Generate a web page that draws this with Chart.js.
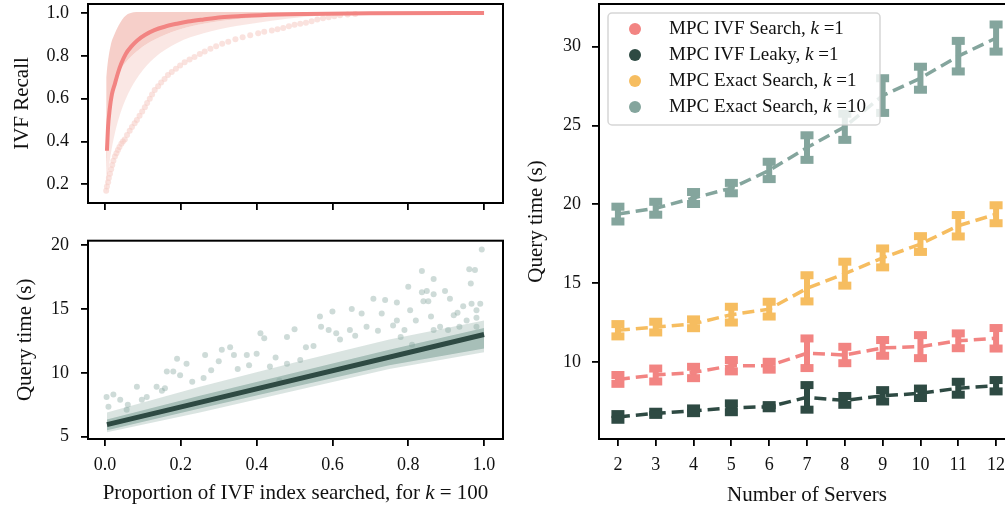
<!DOCTYPE html>
<html>
<head>
    <meta charset="utf-8">
    <title>IVF recall and MPC query time</title>
    <script src="https://cdn.jsdelivr.net/npm/chart.js"></script>
    <style>
        body {
            margin: 0;
            background: #fff;
            overflow: hidden;
            width: 1005px;
            height: 508px;
            position: relative;
        }
        canvas { position: absolute; }
        #recallChart { left: 0; top: 0; }
        #timeChart { left: 0; top: 230px; }
        #serverChart { left: 520px; top: 0; }
    </style>
</head>
<body>
    <canvas id="recallChart" width="520" height="215"></canvas>
    <canvas id="timeChart" width="520" height="278"></canvas>
    <canvas id="serverChart" width="505" height="508"></canvas>

    <script>
        var FONT = "'Liberation Serif', 'DejaVu Serif', serif";
        var PINK = '#f5cac3', SALMON = '#f28482', DARK = '#2e4a43', ORANGE = '#f6bd60', TEAL = '#84a59d';

        // ---- top left: recall vs proportion of index searched ----
        var propTicks = [0.0, 0.2, 0.4, 0.6, 0.8, 1.0];
        var recallTicks = [0.2, 0.4, 0.6, 0.8, 1.0];
        var recallMeanX = [0.005, 0.008, 0.012, 0.018, 0.026, 0.034, 0.043, 0.055, 0.069, 0.085, 0.105, 0.13, 0.157, 0.19, 0.219, 0.26, 0.307, 0.36, 0.41, 0.53, 0.7, 1.0];
        var recallMeanY = [0.357, 0.47, 0.547, 0.62, 0.67, 0.72, 0.765, 0.81, 0.843, 0.872, 0.897, 0.92, 0.936, 0.95, 0.96, 0.97, 0.98, 0.986, 0.99, 0.995, 0.999, 1.0];
        // spread of per-query recall (envelopes)
        var bandX     = [0.003, 0.008, 0.015, 0.026, 0.04, 0.06, 0.09, 0.13, 0.19, 0.26, 0.35, 0.43, 0.53, 0.65];
        var bandTop   = [0.70, 0.78, 0.85, 0.905, 0.955, 0.995, 1.005, 1.005, 1.005, 1.005, 1.005, 1.005, 1.005, 1.005];
        var bandDense = [0.24, 0.42, 0.55, 0.66, 0.73, 0.78, 0.83, 0.875, 0.92, 0.95, 0.972, 0.982, 0.99, 1.0];
        var bandLight = [0.16, 0.25, 0.34, 0.44, 0.53, 0.62, 0.71, 0.79, 0.86, 0.905, 0.94, 0.962, 0.982, 1.0];
        // slowest query, drawn as separate dots
        var strandX = [0.003, 0.005, 0.008, 0.010, 0.013, 0.016, 0.019, 0.022, 0.026, 0.030, 0.034, 0.038, 0.043, 0.047, 0.052, 0.058, 0.065, 0.071, 0.078, 0.084, 0.091, 0.098, 0.105, 0.111, 0.118, 0.124, 0.131, 0.140, 0.148, 0.157, 0.166, 0.176, 0.187, 0.198, 0.21, 0.223, 0.236, 0.250, 0.263, 0.278, 0.293, 0.309, 0.325, 0.344, 0.363, 0.383, 0.404, 0.42, 0.44, 0.455, 0.47, 0.485, 0.50, 0.515, 0.53, 0.545, 0.56, 0.575, 0.59, 0.605, 0.62, 0.64, 0.66];
        var strandY = [0.17, 0.19, 0.21, 0.23, 0.25, 0.27, 0.29, 0.31, 0.33, 0.345, 0.36, 0.375, 0.39, 0.40, 0.41, 0.43, 0.45, 0.468, 0.485, 0.50, 0.52, 0.54, 0.56, 0.58, 0.60, 0.62, 0.64, 0.658, 0.675, 0.692, 0.71, 0.725, 0.74, 0.755, 0.77, 0.783, 0.795, 0.808, 0.82, 0.833, 0.845, 0.856, 0.866, 0.877, 0.887, 0.896, 0.905, 0.912, 0.918, 0.924, 0.93, 0.938, 0.945, 0.95, 0.955, 0.962, 0.97, 0.975, 0.98, 0.985, 0.99, 0.993, 0.995];

        // ---- bottom left: query time vs proportion searched ----
        var timeTicks = [5, 10, 15, 20];
        var fitX = [0.005, 1.0];
        var fitY = [5.95, 13.0];
        var cloudX        = [0.005, 0.25, 0.5, 0.75, 1.0];
        var cloudTop      = [6.9, 8.9, 10.8, 12.6, 14.1];
        var cloudLow      = [5.35, 6.9, 8.6, 10.3, 11.6];
        var cloudDenseTop = [6.35, 8.2, 10.0, 11.8, 13.5];
        var cloudDenseLow = [5.5, 7.2, 8.9, 10.6, 11.9];
        var outlierX = [0.994, 0.961, 0.976, 0.836, 0.867, 0.965, 0.80, 0.836, 0.849, 0.897, 0.867, 0.708, 0.739, 0.770, 0.805, 0.84, 0.853, 0.91, 0.945, 0.967, 0.98,
                        0.651, 0.677, 0.60, 0.567, 0.57, 0.59, 0.61, 0.69, 0.73, 0.77, 0.79, 0.82, 0.884, 0.92, 0.954, 0.50, 0.48, 0.42, 0.41, 0.40, 0.374,
                        0.33, 0.34, 0.308, 0.30, 0.28, 0.264, 0.215, 0.198, 0.19, 0.163, 0.18, 0.136, 0.158, 0.097, 0.084, 0.04, 0.004, 0.022, 0.009, 0.057,
                        0.435, 0.48, 0.515, 0.46, 0.53, 0.646, 0.78, 0.81, 0.867, 0.905, 0.935, 0.98, 0.98,
                        0.06, 0.11, 0.15, 0.23, 0.26, 0.35, 0.38, 0.45, 0.55, 0.62, 0.66, 0.72, 0.76, 0.86, 0.93, 0.99];
        var outlierY = [19.66, 18.1, 18.04, 17.97, 17.34, 17.0, 16.74, 16.3, 16.4, 16.4, 16.14, 15.8, 15.7, 15.5, 14.9, 15.6, 15.6, 15.8, 15.2, 15.4, 14.9,
                        15.0, 14.65, 14.8, 14.4, 13.6, 13.35, 13.1, 13.6, 14.65, 14.1, 13.35, 14.1, 13.6, 14.5, 14.1, 13.4, 12.8, 12.7, 13.1, 11.5, 11.4,
                        12.0, 11.4, 11.8, 10.9, 10.2, 11.4, 10.7, 9.8, 11.1, 10.1, 10.1, 8.9, 8.8, 7.9, 8.9, 7.9, 8.1, 8.3, 7.35, 7.1,
                        10.5, 10.7, 11.0, 9.4, 12.0, 13.35, 12.8, 12.2, 13.35, 13.35, 13.6, 13.6, 14.3,
                        7.5, 8.1, 8.6, 9.3, 9.6, 10.3, 10.6, 11.2, 12.1, 12.6, 12.9, 13.3, 13.7, 14.4, 14.7, 15.4];

        // ---- right: query time vs number of servers ----
        var servers = [2, 3, 4, 5, 6, 7, 8, 9, 10, 11, 12];
        var serverTicks = [10, 15, 20, 25, 30];
        var seriesNames = ['MPC IVF Search', 'MPC IVF Leaky', 'MPC Exact Search', 'MPC Exact Search'];
        var seriesK = [1, 1, 1, 10];
        var ivfSearch    = [8.89, 9.17, 9.33, 9.76, 9.76, 10.55, 10.44, 10.89, 10.97, 11.34, 11.5];
        var ivfSearchErr = [0.28, 0.41, 0.36, 0.36, 0.25, 0.94, 0.52, 0.5, 0.73, 0.47, 0.65];
        var ivfLeaky     = [6.51, 6.74, 6.9, 7.09, 7.16, 7.75, 7.56, 7.85, 8.01, 8.33, 8.49];
        var ivfLeakyErr  = [0.18, 0.1, 0.15, 0.28, 0.1, 0.78, 0.28, 0.36, 0.3, 0.41, 0.36];
        var exact1       = [12.01, 12.21, 12.42, 13.0, 13.35, 14.67, 15.6, 16.6, 17.48, 18.64, 19.37];
        var exact1Err    = [0.39, 0.34, 0.28, 0.5, 0.47, 0.83, 0.76, 0.6, 0.5, 0.68, 0.57];
        var exact10      = [19.38, 19.75, 20.4, 21.03, 22.15, 23.6, 24.92, 26.9, 28.0, 29.4, 30.55];
        var exact10Err   = [0.47, 0.41, 0.38, 0.33, 0.55, 0.78, 0.83, 1.1, 0.73, 0.97, 0.86];

        function pts(xs, ys) {
            return xs.map(function(x, i) { return {x: x, y: ys[i]}; });
        }

        // black box round the plot area
        var framePlugin = {
            id: 'frame',
            afterDraw: function(chart) {
                var a = chart.chartArea, c = chart.ctx;
                c.save();
                c.strokeStyle = '#000';
                c.lineWidth = 2;
                c.strokeRect(a.left, a.top, a.right - a.left, a.bottom - a.top);
                c.restore();
            }
        };

        function tickGrid() {
            return {display: true, drawOnChartArea: false, drawTicks: true, tickLength: 7,
                    color: '#000', lineWidth: 1.8, tickWidth: 1.8, tickColor: '#000'};
        }

        // linear axis with fixed ticks and a fixed box size (no extra label margins)
        function axis(min, max, tickList, fmt, pad, boxSize, title) {
            var a = {
                type: 'linear', min: min, max: max,
                border: {display: false},
                grid: tickGrid(),
                afterBuildTicks: function(s) { s.ticks = tickList.map(function(v) { return {value: v}; }); },
                afterFit: function(s) {
                    if (s.isHorizontal()) s.height = boxSize; else s.width = boxSize;
                    s.paddingTop = 0; s.paddingBottom = 0; s.paddingLeft = 0; s.paddingRight = 0;
                },
                ticks: {font: {family: FONT, size: 18}, color: '#111', padding: pad, callback: fmt}
            };
            if (title) {
                a.title = {display: true, text: title.text, font: {family: FONT, size: 21}, color: '#111',
                           padding: {top: title.pad, bottom: title.pad}};
            }
            return a;
        }

        var noLabel = function() { return ''; };
        var oneDec = function(v) { return v.toFixed(1); };
        var whole = function(v) { return String(v); };

        var baseOpts = {
            responsive: false,
            animation: false,
            plugins: {legend: {display: false}, tooltip: {enabled: false}}
        };

        // Top left chart
        new Chart(document.getElementById('recallChart'), {
            type: 'line',
            data: {
                datasets: [
                    {label: 'mean recall', data: pts(recallMeanX, recallMeanY), borderColor: SALMON, borderWidth: 4,
                     pointRadius: 0, cubicInterpolationMode: 'monotone', fill: false, order: 0},
                    {label: 'slowest', data: pts(strandX, strandY), showLine: false, pointRadius: 3, borderWidth: 0,
                     pointBackgroundColor: 'rgba(245,202,195,0.55)', order: 1},
                    {label: 'top', data: pts(bandX, bandTop), borderWidth: 0, pointRadius: 0, cubicInterpolationMode: 'monotone',
                     fill: false, order: 5},
                    {label: 'dense', data: pts(bandX, bandDense), borderWidth: 0, pointRadius: 0, cubicInterpolationMode: 'monotone',
                     fill: 2, backgroundColor: 'rgba(245,202,195,0.9)', order: 3},
                    {label: 'light', data: pts(bandX, bandLight), borderWidth: 0, pointRadius: 0, cubicInterpolationMode: 'monotone',
                     fill: 3, backgroundColor: 'rgba(245,202,195,0.45)', order: 4}
                ]
            },
            options: Object.assign({}, baseOpts, {
                layout: {padding: {top: 4, right: 17, left: 0, bottom: 0}},
                scales: {
                    x: axis(-0.045, 1.05, propTicks, noLabel, 0, 12),
                    y: axis(0.113, 1.042, recallTicks, oneDec, 12, 88, {text: 'IVF Recall', pad: 10})
                }
            }),
            plugins: [framePlugin]
        });

        // x title with italic k
        var propTitlePlugin = {
            id: 'propTitle',
            afterDraw: function(chart) {
                var a = chart.chartArea, c = chart.ctx;
                var parts = [['Proportion of IVF index searched, for ', ''], ['k', 'italic '], [' = 100', '']];
                c.save();
                c.fillStyle = '#111';
                c.textBaseline = 'middle';
                var total = 0;
                parts.forEach(function(p) { c.font = p[1] + '21px ' + FONT; total += c.measureText(p[0]).width; });
                var x = (a.left + a.right) / 2 - total / 2;
                parts.forEach(function(p) {
                    c.font = p[1] + '21px ' + FONT;
                    c.fillText(p[0], x, 263);
                    x += c.measureText(p[0]).width;
                });
                c.restore();
            }
        };

        // Bottom left chart
        new Chart(document.getElementById('timeChart'), {
            type: 'line',
            data: {
                datasets: [
                    {label: 'fit', data: pts(fitX, fitY), borderColor: DARK, borderWidth: 5, pointRadius: 0, fill: false, order: 0},
                    {label: 'outliers', data: pts(outlierX, outlierY), showLine: false, pointRadius: 3, borderWidth: 0,
                     pointBackgroundColor: 'rgba(132,165,157,0.4)', order: 1},
                    {label: 'cloud top', data: pts(cloudX, cloudTop), borderWidth: 0, pointRadius: 0, fill: false, order: 6},
                    {label: 'cloud low', data: pts(cloudX, cloudLow), borderWidth: 0, pointRadius: 0, fill: 2,
                     backgroundColor: 'rgba(132,165,157,0.3)', order: 5},
                    {label: 'dense top', data: pts(cloudX, cloudDenseTop), borderWidth: 0, pointRadius: 0, fill: false, order: 4},
                    {label: 'dense low', data: pts(cloudX, cloudDenseLow), borderWidth: 0, pointRadius: 0, fill: 4,
                     backgroundColor: 'rgba(132,165,157,0.6)', order: 3}
                ]
            },
            options: Object.assign({}, baseOpts, {
                layout: {padding: {top: 10.7, right: 17, left: 0, bottom: 0}},
                scales: {
                    x: axis(-0.045, 1.05, propTicks, oneDec, 8, 69),
                    y: axis(4.82, 20.34, timeTicks, whole, 12, 88, {text: 'Query time (s)', pad: 13})
                }
            }),
            plugins: [framePlugin, propTitlePlugin]
        });

        // error bars with thick caps
        var errorBarPlugin = {
            id: 'errorBars',
            afterDatasetsDraw: function(chart) {
                var c = chart.ctx, xs = chart.scales.x, ys = chart.scales.y;
                chart.data.datasets.forEach(function(ds) {
                    if (!ds.errors) return;
                    c.save();
                    c.fillStyle = ds.borderColor;
                    ds.data.forEach(function(p, i) {
                        var px = xs.getPixelForValue(p.x);
                        var hi = ys.getPixelForValue(p.y + ds.errors[i]);
                        var lo = ys.getPixelForValue(p.y - ds.errors[i]);
                        c.fillRect(px - 3, hi, 6, lo - hi);
                        c.fillRect(px - 6.5, hi - 4, 13, 8);
                        c.fillRect(px - 6.5, lo - 4, 13, 8);
                    });
                    c.restore();
                });
            }
        };

        // boxed legend inside the plot, drawn above the lines
        var legendPlugin = {
            id: 'boxLegend',
            afterDatasetsDraw: function(chart) {
                var a = chart.chartArea, c = chart.ctx;
                var left = a.left + 9, top = a.top + 9;
                c.save();
                c.beginPath();
                if (c.roundRect) c.roundRect(left, top, 272, 112, 4); else c.rect(left, top, 272, 112);
                c.fillStyle = 'rgba(255,255,255,0.8)';
                c.fill();
                c.strokeStyle = 'rgba(204,204,204,0.8)';
                c.lineWidth = 1.5;
                c.stroke();
                c.textBaseline = 'middle';
                chart.data.datasets.forEach(function(ds, i) {
                    var y = top + 16 + i * 26;
                    c.beginPath();
                    c.arc(left + 27, y, 6, 0, Math.PI * 2);
                    c.fillStyle = ds.borderColor;
                    c.fill();
                    c.fillStyle = '#111';
                    var x = left + 61;
                    var parts = [[seriesNames[i] + ', ', ''], ['k', 'italic '], [' =' + seriesK[i], '']];
                    parts.forEach(function(p) {
                        c.font = p[1] + '19px ' + FONT;
                        c.fillText(p[0], x, y);
                        x += c.measureText(p[0]).width;
                    });
                });
                c.restore();
            }
        };

        function series(name, vals, errs, color) {
            return {label: name, data: pts(servers, vals), errors: errs, borderColor: color, backgroundColor: color,
                    borderWidth: 3.5, borderDash: [12, 6], pointRadius: 0, fill: false};
        }

        // Right chart
        new Chart(document.getElementById('serverChart'), {
            type: 'line',
            data: {
                datasets: [
                    series('MPC IVF Search, k =1', ivfSearch, ivfSearchErr, SALMON),
                    series('MPC IVF Leaky, k =1', ivfLeaky, ivfLeakyErr, DARK),
                    series('MPC Exact Search, k =1', exact1, exact1Err, ORANGE),
                    series('MPC Exact Search, k =10', exact10, exact10Err, TEAL)
                ]
            },
            options: Object.assign({}, baseOpts, {
                layout: {padding: {top: 4, right: 10, left: 0, bottom: 0}},
                scales: {
                    x: axis(1.5, 12.5, servers, whole, 8, 69, {text: 'Number of Servers', pad: 0}),
                    y: axis(5.11, 32.71, serverTicks, whole, 11, 79, {text: 'Query time (s)', pad: 4})
                }
            }),
            plugins: [errorBarPlugin, legendPlugin, framePlugin]
        });
    </script>
</body>
</html>
